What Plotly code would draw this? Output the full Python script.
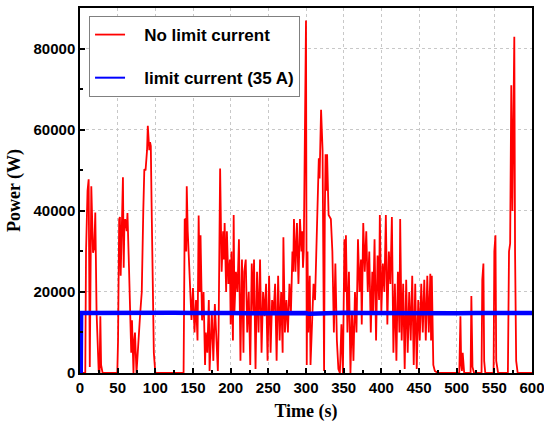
import plotly.graph_objects as go

# Red series: no current limit (time s, power W)
red_time = [0, 7, 8, 10, 11.5, 13, 15, 17.3, 19, 20.3, 22, 24.8, 26, 27, 28, 30, 49.5,
            50.5, 52, 53, 54, 55, 56, 57, 58, 59, 60, 62, 63, 65, 67, 68, 69, 70, 71, 72, 73, 75,
            77, 79, 80, 82, 84, 85.4, 87, 88, 89, 90, 92, 93, 94, 95, 96, 98, 100, 137.5,
            139, 140, 141, 141.7, 143, 144, 146, 148, 150, 152, 154, 156, 157.5, 159, 160, 162,
            164, 166, 167, 169, 171, 172, 175, 177, 179, 181, 183, 184, 186, 188, 190, 191, 192,
            194, 195, 197, 199, 200, 201, 203, 204, 205, 207, 209, 211, 213, 215, 217, 218, 220,
            222, 224, 226, 228, 230, 231, 233, 235, 237, 239, 241, 243, 245, 247, 249, 251, 253,
            255, 257, 259, 261, 263, 265, 267, 269, 270, 272, 274, 276, 278, 280, 282, 283, 284,
            286, 288, 290, 292, 294, 295, 296, 297, 299, 300, 301, 302, 303, 305, 306, 308, 310,
            312, 313, 315, 317, 318, 320, 322, 323, 324, 325, 326, 327, 328, 330, 333, 335, 337,
            339, 341, 343, 345, 347, 349, 351, 352, 353, 355, 357, 359, 361, 363, 365, 367, 369,
            371, 373, 374, 376, 378, 380, 382, 384, 386, 388, 389, 391, 393, 395, 397, 398, 400,
            402, 404, 406, 408, 410, 412, 414, 416, 418, 420, 422, 424, 425, 427, 429, 431, 433,
            435, 437, 439, 441, 443, 445, 447, 449, 451, 453, 455, 457, 459, 461, 463, 465, 466,
            467, 469, 471, 475, 503.5, 505, 506, 507, 508, 510, 518.5, 519.5, 521, 523, 533, 534,
            535.5, 536.5, 538, 549, 550, 551.5, 552.5, 555, 568, 569.5, 571, 572.5, 574, 575.5,
            576.5, 577.5, 579, 581, 600]
red_power = [0, 0, 30000, 45000, 47800, 1500, 46100, 29700, 31000, 39600, 15000, 500, 0, 14000, 2000, 0, 0,
             8000, 38000, 38500, 24000, 39000, 40000, 48300, 26000, 37000, 38000, 35000, 39500, 26300, 15000, 5000, 13000, 2000, 0, 8000, 10000, 0,
             5000, 12000, 15000, 20000, 40000, 50300, 50000, 52000, 55000, 61000, 55000, 57000, 56000, 42000, 30000, 5000, 0, 0,
             37900, 38000, 30000, 46100, 35000, 30000, 22000, 13100, 21000, 10000, 18000, 8000, 38900, 20000, 34000, 13000,
             20000, 2000, 10000, 5000, 18000, 500, 15000, 3000, 17000, 10000, 500, 11000, 50500, 25000, 35000, 28000, 37000,
             20000, 35000, 22000, 28000, 12000, 30000, 8000, 39000, 15000, 25000, 20000, 33000, 3000, 28000, 5000, 25000, 28000,
             10000, 20000, 2000, 27000, 15000, 28000, 1000, 25000, 10000, 28000, 5000, 20000, 14000, 22000, 3000, 24000, 5000,
             18000, 15000, 22000, 3000, 24000, 8000, 20000, 5000, 33500, 10000, 18000, 10000, 22000, 15000, 30000, 25000, 38000,
             25000, 37000, 22000, 38000, 30000, 35000, 26000, 30000, 72000, 87000, 2000, 30000, 10000, 24000, 2000, 15000, 22000,
             18000, 24000, 42000, 53000, 48000, 65000, 55000, 20000, 500, 40000, 54000, 45000, 54000, 39000, 38000, 30000, 10000,
             27000, 8000, 1000, 0, 12000, 0, 33000, 20000, 34000, 10000, 25000, 0, 15000, 3000, 20000, 10000, 33000,
             20000, 28000, 12000, 37000, 25000, 35000, 20000, 30000, 10000, 25000, 15000, 33000, 8000, 29000, 18000, 39000, 15000,
             27000, 20000, 39000, 12000, 30000, 22000, 38500, 5000, 22000, 3000, 25000, 10000, 38000, 8000, 22000, 1000, 23000,
             5000, 20000, 8000, 24000, 2000, 22000, 1000, 18000, 8000, 22000, 10000, 23000, 8000, 24000, 10000, 24500, 8000,
             24000, 2000, 500, 0, 0, 14000, 2000, 500, 5000, 0, 0, 19000, 1500, 0, 0, 23000,
             27000, 3000, 0, 0, 30000, 34000, 3000, 0, 0, 30000, 32000, 71000, 40000, 60000,
             83000, 30000, 3000, 0, 0]

# Blue series: limited current (35 A)
blue_time = [0, 1, 1.5, 25, 50, 75, 100, 125, 150, 175, 200, 225, 250, 275, 300, 304, 325, 350,
             375, 400, 425, 450, 475, 500, 525, 550, 575, 600]
blue_power = [0, 0, 14800, 14850, 14800, 14750, 14800, 14850, 14800, 14900, 14800, 14750, 14800,
              14850, 14800, 14600, 14800, 14900, 14800, 14750, 14850, 14800, 14800, 14750, 14800,
              14700, 14800, 14800]

x_ticks = [0, 50, 100, 150, 200, 250, 300, 350, 400, 450, 500, 550, 600]
y_ticks = [0, 20000, 40000, 60000, 80000]

PAD = "\u00a0\u00a0\u00a0"

fig = go.Figure()
fig.add_trace(go.Scatter(x=red_time, y=red_power, mode="lines", name=PAD + "No limit current",
                         line=dict(color="#ff0000", width=1.8), legendgroup="a"))
fig.add_trace(go.Scatter(x=blue_time, y=blue_power, mode="lines", showlegend=False,
                         line=dict(color="#0000ff", width=4.5), legendgroup="b"))
# legend entry for the blue series (thin sample line like the reference)
fig.add_trace(go.Scatter(x=[None], y=[None], mode="lines", name=PAD + "limit current (35 A)",
                         line=dict(color="#0000ff", width=2), legendgroup="b"))

tickfont = dict(family="Liberation Sans, Arial", size=15, color="black", weight="bold")
titlefont = dict(family="Liberation Serif, Times New Roman", size=18, color="black", weight="bold")

fig.update_layout(
    width=544, height=428,
    margin=dict(l=80, r=12, t=8, b=55),
    plot_bgcolor="white", paper_bgcolor="white",
    showlegend=True,
    legend=dict(x=0.02, y=0.978, xanchor="left", yanchor="top",
                bgcolor="white", bordercolor="#808080", borderwidth=1,
                font=dict(family="Liberation Sans, Arial", size=17, color="black", weight="bold"),
                tracegroupgap=18, traceorder="grouped"),
    xaxis=dict(range=[0, 600], tickvals=x_ticks, ticks="inside", ticklen=5, tickwidth=1.5,
               tickcolor="black", showline=True, linecolor="black", linewidth=1.5, mirror=True,
               showgrid=True, gridcolor="#c8c8c8", griddash="dot", gridwidth=1,
               tickfont=tickfont, zeroline=False, ticklabeloverflow="allow", automargin=False,
               minor=dict(tickvals=list(range(25, 600, 50)), ticks="inside", ticklen=3,
                          tickcolor="black", showgrid=False),
               title=dict(text="Time (s)", font=titlefont, standoff=10)),
    yaxis=dict(range=[0, 90100], tickvals=y_ticks, tickformat="d", ticks="inside", ticklen=5,
               tickwidth=1.5, tickcolor="black", showline=True, linecolor="black", linewidth=1.5,
               mirror=True, showgrid=True, gridcolor="#c8c8c8", griddash="dot", gridwidth=1,
               tickfont=tickfont, zeroline=False, automargin=False,
               minor=dict(tickvals=[10000, 30000, 50000, 70000], ticks="inside", ticklen=3,
                          tickcolor="black", showgrid=False),
               title=dict(text="Power (W)", font=titlefont, standoff=8)),
)

fig.write_html("out.html")
